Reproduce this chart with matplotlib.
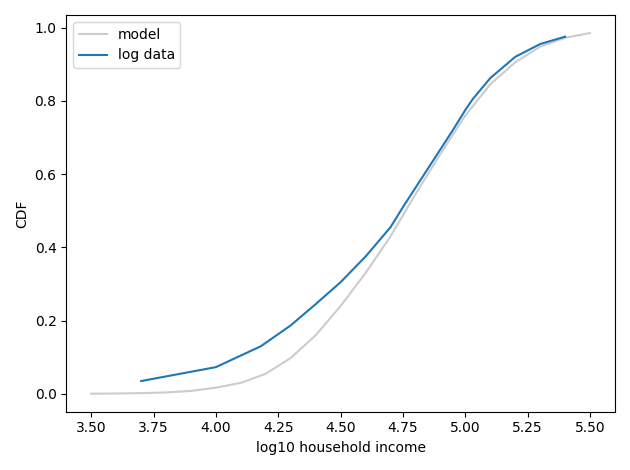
import matplotlib.pyplot as plt

model_x = [3.5, 3.6, 3.7, 3.8, 3.9, 4.0, 4.1, 4.2, 4.3, 4.4, 4.5, 4.6, 4.7, 4.8, 4.9, 5.0, 5.1, 5.2, 5.3, 5.4, 5.5]
model_y = [0.0005, 0.001, 0.002, 0.004, 0.008, 0.017, 0.03, 0.055, 0.098, 0.16, 0.24, 0.33, 0.43, 0.545, 0.655, 0.76, 0.845, 0.905, 0.948, 0.972, 0.985]

data_x = [3.70, 4.0, 4.18, 4.3, 4.4, 4.5, 4.6, 4.7, 4.75, 4.85, 4.95, 5.0, 5.03, 5.1, 5.2, 5.3, 5.4]
data_y = [0.035, 0.073, 0.13, 0.187, 0.245, 0.305, 0.375, 0.455, 0.51, 0.615, 0.72, 0.775, 0.805, 0.862, 0.92, 0.955, 0.975]

fig, ax = plt.subplots(figsize=(6.3, 4.7), dpi=100)
ax.plot(model_x, model_y, color='0.8', label='model')
ax.plot(data_x, data_y, color='tab:blue', label='log data')
ax.set_xlabel('log10 household income')
ax.set_ylabel('CDF')
ax.legend(loc='upper left')
fig.tight_layout()
fig.savefig('out.png')
